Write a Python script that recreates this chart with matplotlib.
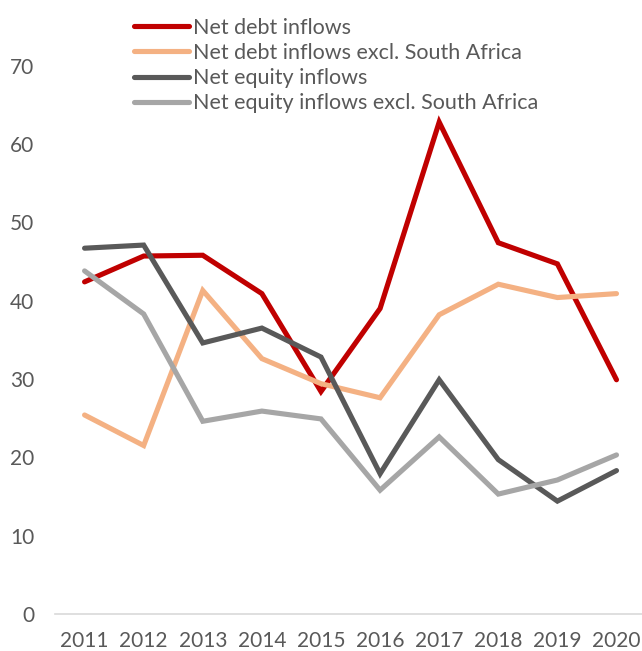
import matplotlib.pyplot as plt
from matplotlib.lines import Line2D

years = [2011, 2012, 2013, 2014, 2015, 2016, 2017, 2018, 2019, 2020]
debt = [42.4, 45.7, 45.8, 40.9, 28.4, 39.0, 62.8, 47.4, 44.7, 29.9]
debt_ex_sa = [25.4, 21.5, 41.3, 32.6, 29.4, 27.6, 38.2, 42.1, 40.4, 40.9]
equity = [46.7, 47.1, 34.6, 36.5, 32.8, 17.9, 29.9, 19.7, 14.4, 18.3]
equity_ex_sa = [43.8, 38.3, 24.6, 25.9, 24.9, 15.8, 22.6, 15.3, 17.1, 20.3]

labels = ["Net debt inflows", "Net debt inflows excl. South Africa",
          "Net equity inflows", "Net equity inflows excl. South Africa"]
colors = ["#C00000", "#F4B183", "#595959", "#A6A6A6"]
series = [debt, debt_ex_sa, equity, equity_ex_sa]

plt.rcParams['font.family'] = ['Lato', 'DejaVu Sans']
text_col = "#595959"

fig = plt.figure(figsize=(6.42, 6.51), dpi=100)
ax = fig.add_axes([0.0857, 0.057, 0.9206, 0.842])

for vals, c in zip(series, colors):
    ax.plot(range(len(years)), vals, color=c, lw=3.7, solid_capstyle='round',
            solid_joinstyle='miter')

ax.set_xlim(-0.5, len(years) - 0.5)
ax.set_ylim(0, 70)
ax.set_yticks(range(0, 71, 10))
ax.set_xticks(range(len(years)))
ax.set_xticklabels([str(y) for y in years])
ax.tick_params(length=0, labelsize=15, colors=text_col)
ax.tick_params(axis='y', pad=15)
ax.tick_params(axis='x', pad=12)
for s in ['top', 'right', 'left']:
    ax.spines[s].set_visible(False)
ax.spines['bottom'].set_color('#D9D9D9')
ax.spines['bottom'].set_linewidth(1.2)

handles = [Line2D([], [], color=c, lw=3.7, solid_capstyle='round') for c in colors]
fig.legend(handles, labels, loc='upper left', bbox_to_anchor=(0.196, 0.986),
           frameon=False, fontsize=15.5, labelcolor=text_col, handlelength=2.55,
           handletextpad=0.15, labelspacing=0.24, borderaxespad=0)

fig.savefig("out.png", dpi=100)
